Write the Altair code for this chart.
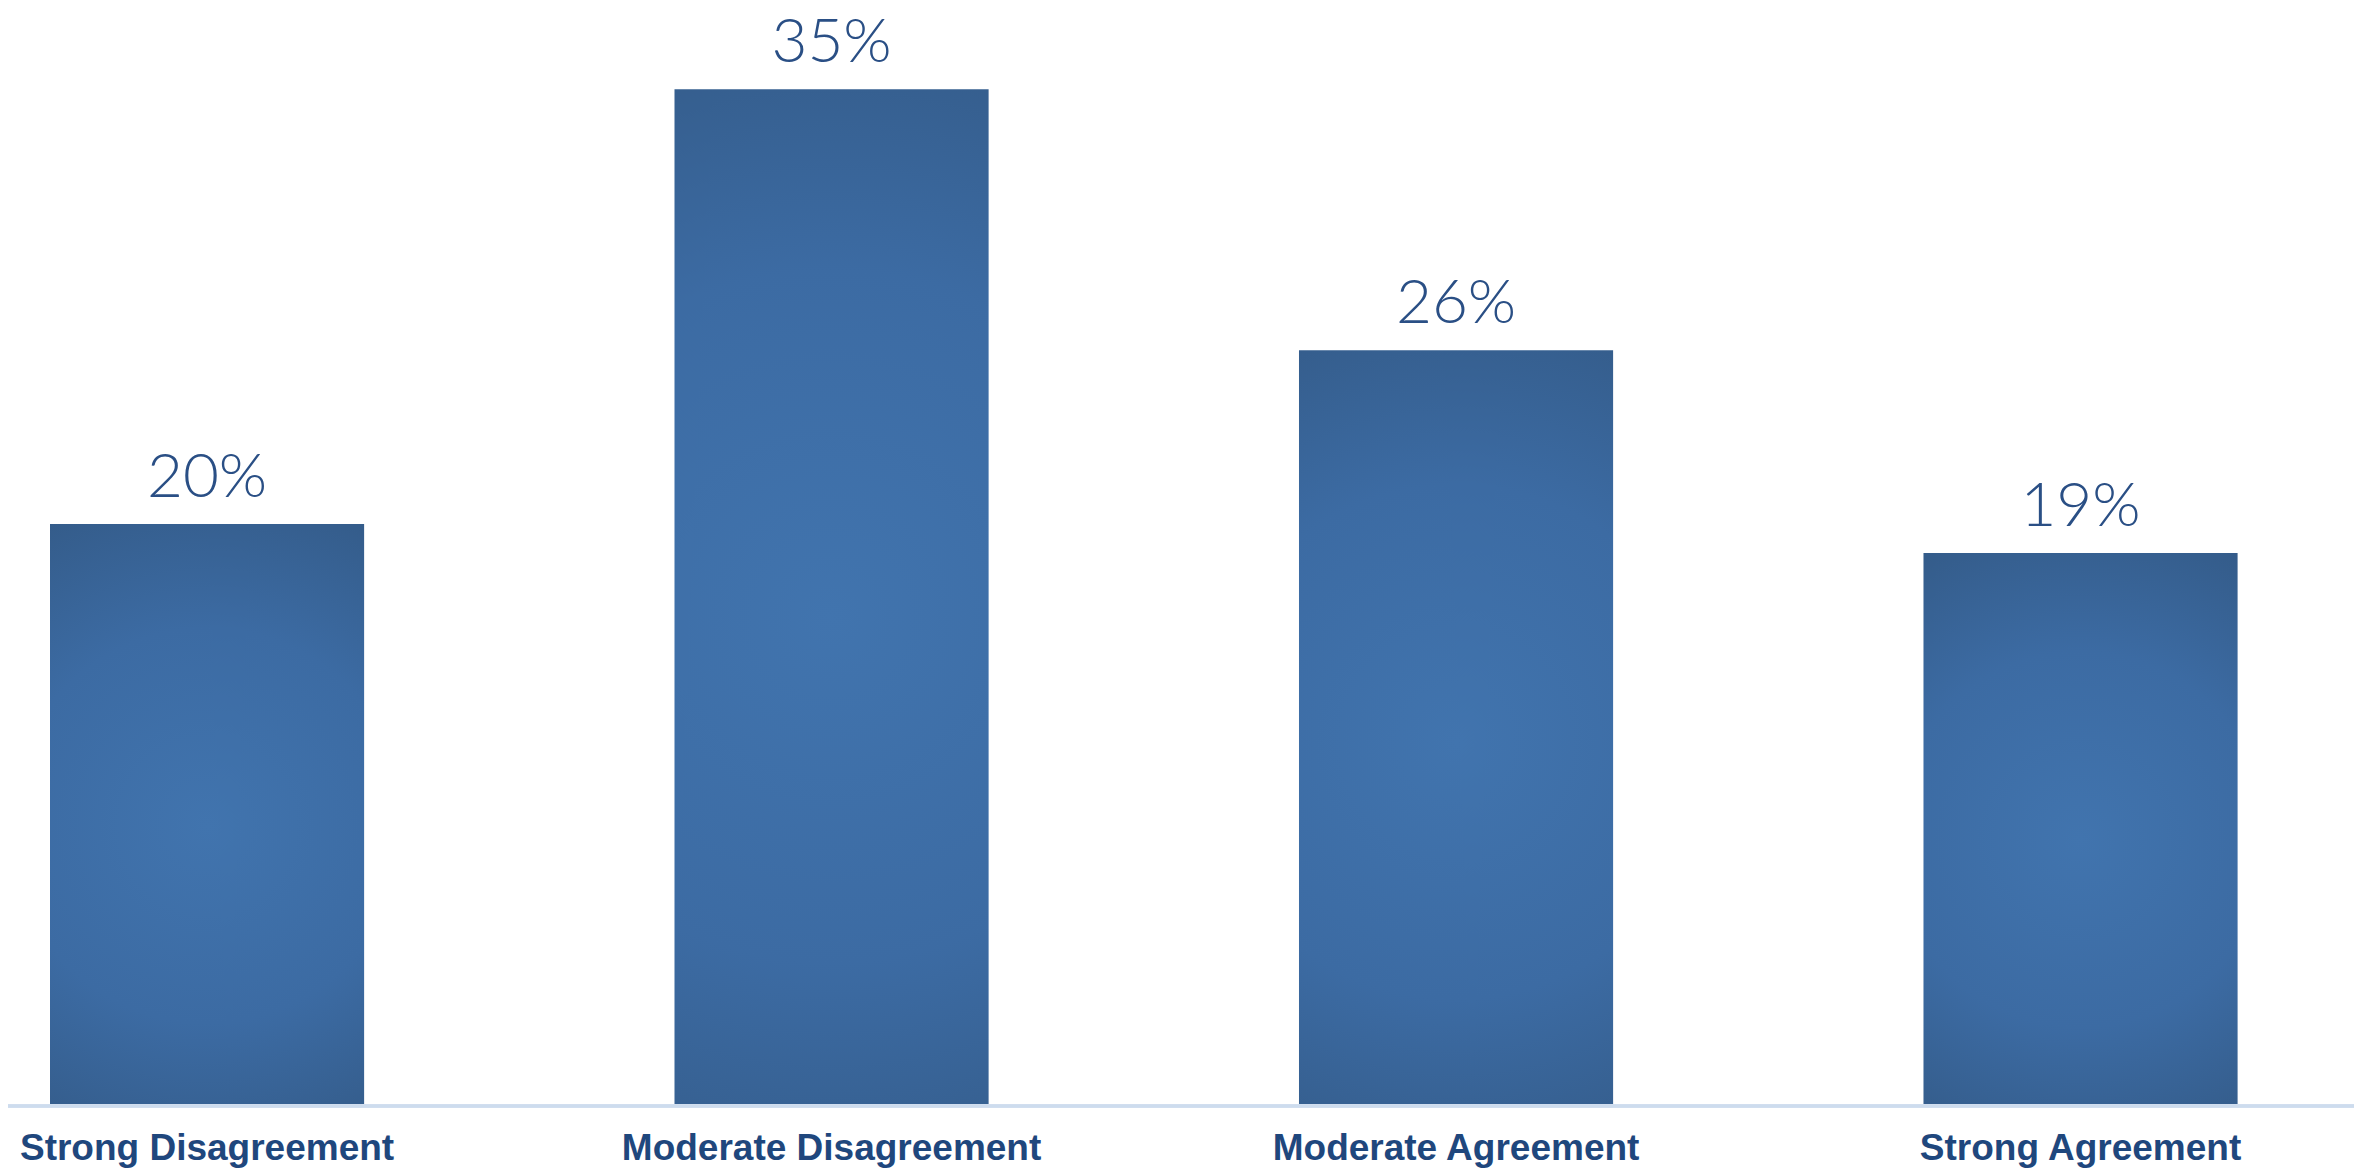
import altair as alt
import pandas as pd

categories = ["Strong Disagreement", "Moderate Disagreement", "Moderate Agreement", "Strong Agreement"]
values = [20, 35, 26, 19]
value_labels = ["20%", "35%", "26%", "19%"]

df = pd.DataFrame({"category": categories, "value": values, "label": value_labels})

x_scale = alt.Scale(domain=categories, range=[42, 2229.6], paddingInner=0.497, paddingOuter=0)
y_scale = alt.Scale(domain=[0, 37.8], range=[1096, 0])

x_enc = alt.X("category:N", scale=x_scale, axis=None, sort=categories)

gradient = {
    "gradient": "radial",
    "x1": 0.5, "y1": 0.52, "r1": 0,
    "x2": 0.5, "y2": 0.52, "r2": 0.62,
    "stops": [
        {"offset": 0, "color": "#4174ae"},
        {"offset": 0.55, "color": "#3c6ba3"},
        {"offset": 1, "color": "#335a87"},
    ],
}

shadow = alt.Chart(df).mark_bar(
    color="#000000", opacity=0.0, stroke="#7a7a7a", strokeWidth=6, strokeOpacity=0.12
).encode(x=x_enc, y=alt.Y("value:Q", scale=y_scale, axis=None))

bars = alt.Chart(df).mark_bar(color=gradient).encode(
    x=x_enc,
    y=alt.Y("value:Q", scale=y_scale, axis=None),
)

baseline = alt.Chart(df).mark_rule(color="#cddcee", strokeWidth=3).encode(
    x=alt.value(-8), x2=alt.value(2360), y=alt.value(1098)
)

pct = alt.Chart(df).mark_text(
    font="Lato", fontWeight=300, fontSize=62, color="#2a4f85", baseline="alphabetic", dy=-27
).encode(
    x=x_enc,
    y=alt.Y("value:Q", scale=y_scale, axis=None),
    text="label:N",
)

cat_labels = alt.Chart(df).mark_text(
    font="Liberation Sans", fontWeight="bold", fontSize=37, color="#1f477d", baseline="alphabetic"
).encode(
    x=x_enc,
    y=alt.value(1152),
    text="category:N",
)

chart = alt.layer(shadow, bars, baseline, pct, cat_labels).properties(
    width=2346,
    height=1164,
    autosize=alt.AutoSizeParams(type="none"),
    padding=0,
).configure_view(stroke=None)

chart.save("out.html", embed_options={"renderer": "svg", "actions": False})
